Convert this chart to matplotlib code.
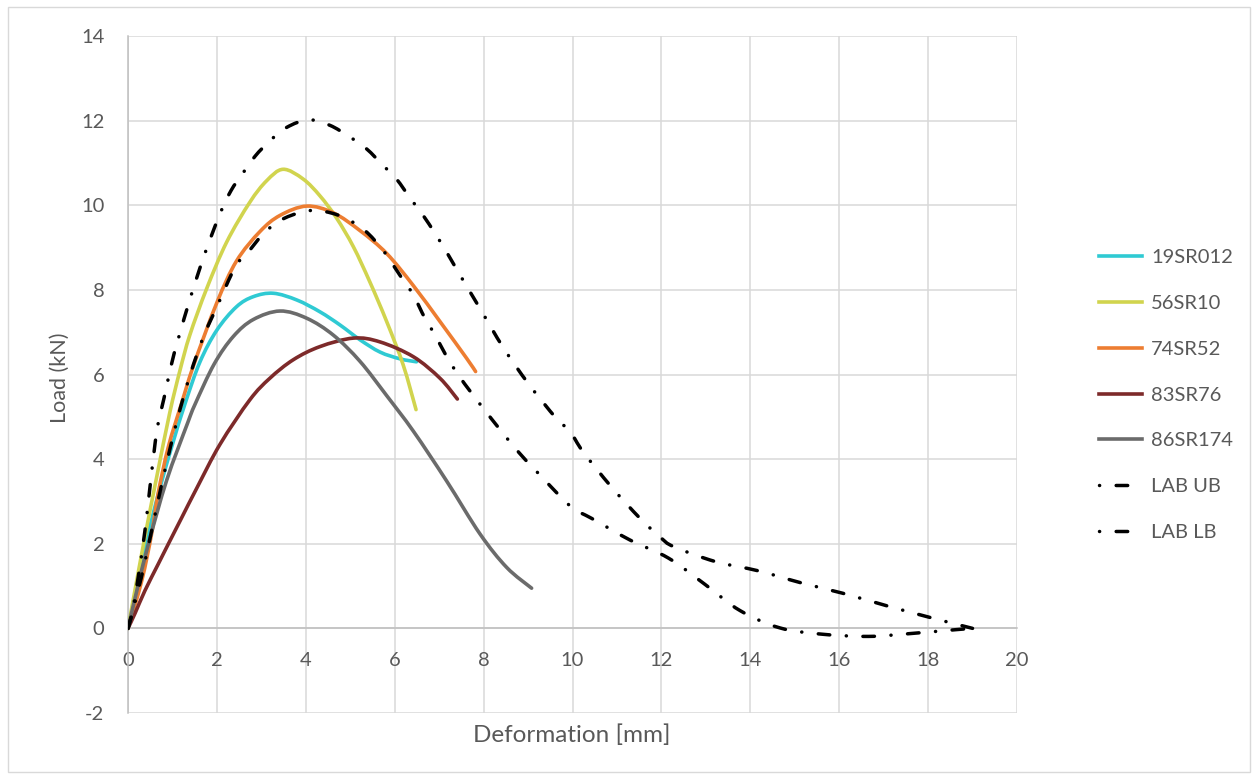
import matplotlib
matplotlib.use("Agg")
import matplotlib.pyplot as plt
from matplotlib.patches import Rectangle, PathPatch
from matplotlib.path import Path
from matplotlib.lines import Line2D

plt.rcParams['font.family'] = ['Lato', 'DejaVu Sans']
plt.rcParams['lines.scale_dashes'] = False

# ---------------- data ----------------
labels = ["19SR012", "56SR10", "74SR52", "83SR76", "86SR174", "LAB UB", "LAB LB"]

x_19SR012 = [0, 0.2, 0.4, 0.7, 1.0, 1.28, 1.62, 2.0, 2.44, 2.82, 3.27, 3.8, 4.32, 4.77, 5.22, 5.67, 6.12, 6.49]
y_19SR012 = [0, 1.0, 2.0, 3.25, 4.35, 5.3, 6.3, 7.05, 7.6, 7.84, 7.92, 7.76, 7.48, 7.17, 6.82, 6.53, 6.37, 6.3]

x_56SR10 = [0, 0.2, 0.42, 0.65, 0.94, 1.17, 1.39, 1.77, 2.22, 2.74, 3.12, 3.49, 3.94, 4.32, 4.69, 5.07, 5.44, 5.82, 6.19, 6.48]
y_56SR10 = [0, 1.15, 2.38, 3.6, 5.1, 6.1, 6.93, 8.03, 9.13, 10.07, 10.58, 10.85, 10.62, 10.22, 9.7, 9.02, 8.19, 7.25, 6.23, 5.17]

x_74SR52 = [0, 0.31, 0.53, 0.68, 0.91, 1.2, 1.47, 2.0, 2.44, 2.97, 3.42, 4.02, 4.62, 5.22, 5.82, 6.42, 7.02, 7.62, 7.82]
y_74SR52 = [0, 1.13, 2.23, 3.2, 4.3, 5.3, 6.2, 7.7, 8.68, 9.38, 9.76, 9.98, 9.82, 9.4, 8.86, 8.1, 7.25, 6.38, 6.07]

x_83SR76 = [0, 0.16, 0.38, 0.68, 0.91, 1.21, 1.55, 2.07, 2.74, 3.19, 3.72, 4.32, 5.07, 5.67, 6.42, 7.02, 7.41]
y_83SR76 = [0, 0.36, 0.89, 1.52, 2.0, 2.62, 3.32, 4.35, 5.4, 5.91, 6.35, 6.66, 6.86, 6.77, 6.42, 5.91, 5.42]

x_86SR174 = [0, 0.2, 0.46, 0.87, 1.34, 1.51, 1.94, 2.37, 2.82, 3.42, 4.02, 4.62, 5.22, 5.82, 6.42, 7.17, 7.92, 8.52, 9.08]
y_86SR174 = [0, 0.9, 2.0, 3.5, 4.85, 5.3, 6.25, 6.9, 7.3, 7.5, 7.33, 6.93, 6.31, 5.5, 4.66, 3.48, 2.23, 1.44, 0.95]

x_LAB_UB = [0, 0.1, 0.23, 0.38, 0.49, 0.61, 0.68, 0.81, 0.98, 1.13, 1.42, 1.73, 2.07, 2.32, 2.56, 2.86,
            3.19, 3.57, 4.06, 4.54, 4.98, 5.37, 5.73, 6.04, 6.36, 6.64, 6.91, 7.17, 7.43, 7.93, 8.44,
            9.01, 9.63, 9.94, 10.24, 10.87, 11.52, 11.98, 12.28, 13.21, 14.18, 15.13, 16.08, 17.05, 18.0, 19.0]
y_LAB_UB = [0, 0.4, 1.21, 2.3, 3.3, 4.38, 4.85, 5.44, 6.25, 6.84, 7.87, 8.86, 9.8, 10.35, 10.72, 11.16,
            11.52, 11.84, 12.02, 11.89, 11.62, 11.33, 10.95, 10.62, 10.15, 9.76, 9.33, 8.89, 8.42, 7.54, 6.64,
            5.78, 4.97, 4.66, 4.17, 3.35, 2.6, 2.15, 1.93, 1.58, 1.36, 1.08, 0.83, 0.54, 0.27, 0]

x_LAB_LB = [0, 0.3, 0.55, 0.8, 1.1, 1.4, 1.7, 2.0, 2.41, 2.67, 3.04, 3.42, 3.91, 4.32, 4.84, 5.33, 5.71,
            5.97, 6.19, 6.42, 6.68, 6.91, 7.17, 7.43, 7.73, 8.03, 8.33, 8.63, 8.97, 9.31, 9.64, 10.02,
            10.43, 11.29, 12.16, 12.98, 13.77, 14.67, 15.64, 16.66, 17.63, 18.63, 19.0]
y_LAB_LB = [0, 1.2, 2.4, 3.6, 4.9, 6.0, 6.9, 7.6, 8.54, 8.85, 9.32, 9.64, 9.84, 9.87, 9.72, 9.40, 8.97,
            8.58, 8.23, 7.88, 7.33, 6.93, 6.42, 5.99, 5.56, 5.15, 4.75, 4.36, 3.95, 3.58, 3.21, 2.83,
            2.6, 2.09, 1.66, 1.04, 0.42, 0.01, -0.14, -0.19, -0.12, -0.03, 0]

x_ticks = [0, 2, 4, 6, 8, 10, 12, 14, 16, 18, 20]
y_ticks = [-2, 0, 2, 4, 6, 8, 10, 12, 14]

# ---------------- styles ----------------
colors = ['#2FCAD3', '#D1D44E', '#ED7D31', '#7D2A2A', '#6B6B6B', '#000000', '#000000']
text_color = '#595959'
grid_color = '#D9D9D9'
axis_color = '#BFBFBF'
dash_seq = (8.3, 11.9, 0.1, 11.9)
dashdot = (0, dash_seq)
dashdot_legend = (20.2, dash_seq)


def smooth_path(xs, ys):
    """Excel-style smoothed line: cubic Bezier segments through the data points."""
    n = len(xs)
    verts = [(xs[0], ys[0])]
    codes = [Path.MOVETO]
    for i in range(n - 1):
        x0, y0 = (xs[i - 1], ys[i - 1]) if i > 0 else (xs[i], ys[i])
        x1, y1 = xs[i], ys[i]
        x2, y2 = xs[i + 1], ys[i + 1]
        x3, y3 = (xs[i + 2], ys[i + 2]) if i + 2 < n else (x2, y2)
        c1 = (x1 + (x2 - x0) / 6.0, y1 + (y2 - y0) / 6.0)
        c2 = (x2 - (x3 - x1) / 6.0, y2 - (y3 - y1) / 6.0)
        verts += [c1, c2, (x2, y2)]
        codes += [Path.CURVE4] * 3
    return Path(verts, codes)


W, H = 1258, 780
fig = plt.figure(figsize=(W / 100, H / 100), dpi=100)
ax = fig.add_axes([128 / W, 1 - 713 / H, (1017 - 128) / W, (713 - 36) / H])

series = [(x_19SR012, y_19SR012), (x_56SR10, y_56SR10), (x_74SR52, y_74SR52),
          (x_83SR76, y_83SR76), (x_86SR174, y_86SR174), (x_LAB_UB, y_LAB_UB), (x_LAB_LB, y_LAB_LB)]

handles = []
for i, ((xs, ys), lab, c) in enumerate(zip(series, labels, colors)):
    if lab.startswith("LAB"):
        patch = PathPatch(smooth_path(xs, ys), fill=False, edgecolor=c, lw=2.5, linestyle=dashdot,
                          capstyle='round', zorder=3 + i)
        handles.append(Line2D([], [], color=c, lw=2.5, linestyle=dashdot_legend, dash_capstyle='round'))
    else:
        patch = PathPatch(smooth_path(xs, ys), fill=False, edgecolor=c, lw=2.6,
                          capstyle='round', joinstyle='round', zorder=3 + i)
        handles.append(Line2D([], [], color=c, lw=2.6))
    ax.add_patch(patch)

ax.set_xlim(0, 20)
ax.set_ylim(-2, 14)
ax.set_xticks(x_ticks)
ax.set_yticks(y_ticks)
ax.set_xticklabels([str(v) for v in x_ticks])
ax.set_yticklabels([str(v) for v in y_ticks])

ax.grid(True, color=grid_color, lw=1.1, zorder=0)
ax.set_axisbelow(True)
for s in ['top', 'right']:
    ax.spines[s].set_visible(False)
ax.spines['left'].set_color(axis_color)
ax.spines['left'].set_linewidth(1.1)
ax.spines['bottom'].set_position(('data', 0))
ax.spines['bottom'].set_color(axis_color)
ax.spines['bottom'].set_linewidth(1.1)
ax.tick_params(axis='both', length=0, labelsize=14.5, colors=text_color)
ax.tick_params(axis='y', pad=17)
ax.tick_params(axis='x', pad=17)

fig.text(572 / W, 1 - 735 / H, "Deformation [mm]", ha='center', va='center', fontsize=17.5, color=text_color)
fig.text(60 / W, 1 - 378 / H, "Load (kN)", ha='center', va='center', rotation=90, fontsize=15.5, color=text_color)

leg = ax.legend(handles, labels, loc='center left', bbox_to_anchor=(1099 / W, 1 - 395 / H),
                bbox_transform=fig.transFigure, frameon=False, fontsize=14.5, handlelength=2.15,
                handletextpad=0.45, labelspacing=1.42, borderaxespad=0, borderpad=0)
for t in leg.get_texts():
    t.set_color(text_color)

fig.patches.append(Rectangle((8 / W, 1 - 772 / H), (1250 - 8) / W, (772 - 7) / H,
                             transform=fig.transFigure, fill=False, edgecolor='#D9D9D9', lw=1.0))

fig.savefig("out.png", dpi=100)
